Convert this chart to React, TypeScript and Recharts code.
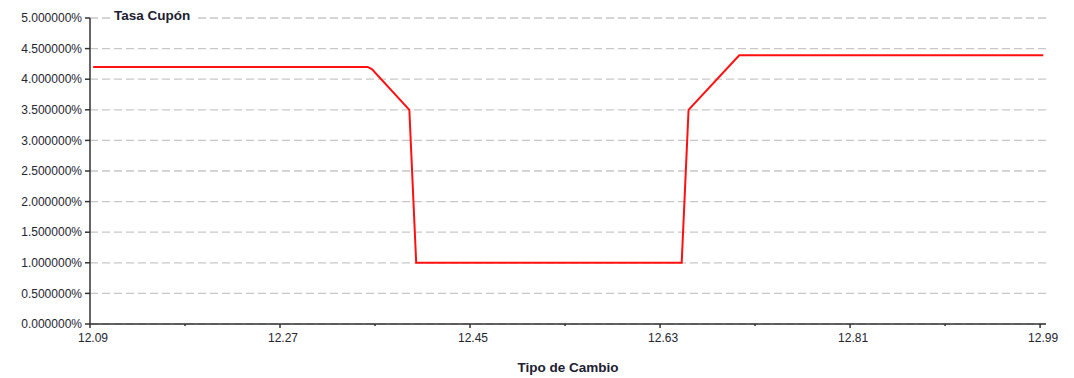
import React from 'react';
import { LineChart, Line, XAxis, YAxis, CartesianGrid } from 'recharts';

const tipoCambio = [12.093, 12.353, 12.357, 12.3925, 12.399, 12.6505, 12.657, 12.705, 12.993];
const tasaCupon = [4.2, 4.2, 4.165, 3.5, 1.0, 1.0, 3.5, 4.39, 4.39];
const xTicks = [12.09, 12.18, 12.27, 12.36, 12.45, 12.54, 12.63, 12.72, 12.81, 12.9, 12.99];
const yTicks = [0, 0.5, 1, 1.5, 2, 2.5, 3, 3.5, 4, 4.5, 5];
const title = 'Tasa Cupón';
const xTitle = 'Tipo de Cambio';

const data = tipoCambio.map((x, i) => ({ x, y: tasaCupon[i] }));

const FONT = '"Liberation Sans", Arial, sans-serif';

const XTick = (props: any) => {
  const { x, y, payload, index } = props;
  const major = index % 2 === 0;
  return (
    <g>
      <line x1={x} x2={x} y1={y - 8} y2={y - 8 + (major ? 4 : 2)} stroke="#333" strokeWidth={1.5} />
      {major && (
        <text x={x + 3} y={y + 10} textAnchor="middle" fontFamily={FONT} fontSize={12} fill="#252530">
          {payload.value.toFixed(2)}
        </text>
      )}
    </g>
  );
};

const TitleLabel = (props: any) => {
  const vb = props.viewBox || {};
  const x0 = (vb.x || 0) + (vb.width || 0) + 24;
  const y0 = vb.y || 0;
  return (
    <g>
      <rect x={x0 - 3} y={y0 - 9} width={86} height={16} fill="#fff" />
      <text x={x0} y={y0 + 2} fontFamily={FONT} fontSize={13.5} fontWeight="bold" fill="#202030">
        {title}
      </text>
    </g>
  );
};

export default function App() {
  return (
    <div style={{ position: 'absolute', left: 0, top: 0, width: 1074, height: 378, background: '#fff' }}>
      <LineChart width={1074} height={378} data={data} margin={{ top: 18, right: 28, left: 0, bottom: 0 }}>
        <CartesianGrid horizontal vertical={false} stroke="#c8c8c8" strokeDasharray="8 4" strokeWidth={1.3} />
        <XAxis
          dataKey="x"
          type="number"
          domain={[12.09, 12.9956]}
          ticks={xTicks}
          interval={0}
          height={54}
          tickLine={false}
          tick={<XTick />}
          axisLine={{ stroke: '#333', strokeWidth: 1.5 }}
          label={{ value: xTitle, position: 'insideBottom', offset: 6, fontFamily: FONT, fontSize: 13.5, fontWeight: 'bold', fill: '#202030' }}
        />
        <YAxis
          type="number"
          domain={[0, 5]}
          ticks={yTicks}
          interval={0}
          width={90}
          tickSize={5}
          tickMargin={3}
          tickLine={{ stroke: '#333', strokeWidth: 1.5 }}
          axisLine={{ stroke: '#333', strokeWidth: 1.5 }}
          tick={{ fontFamily: FONT, fontSize: 12, fill: '#252530' }}
          tickFormatter={(v: number) => v.toFixed(6) + '%'}
          label={{ content: <TitleLabel />, position: 'insideTopRight' }}
        />
        <Line type="linear" dataKey="y" stroke="#ff1010" strokeWidth={2} dot={false} isAnimationActive={false} />
      </LineChart>
    </div>
  );
}
